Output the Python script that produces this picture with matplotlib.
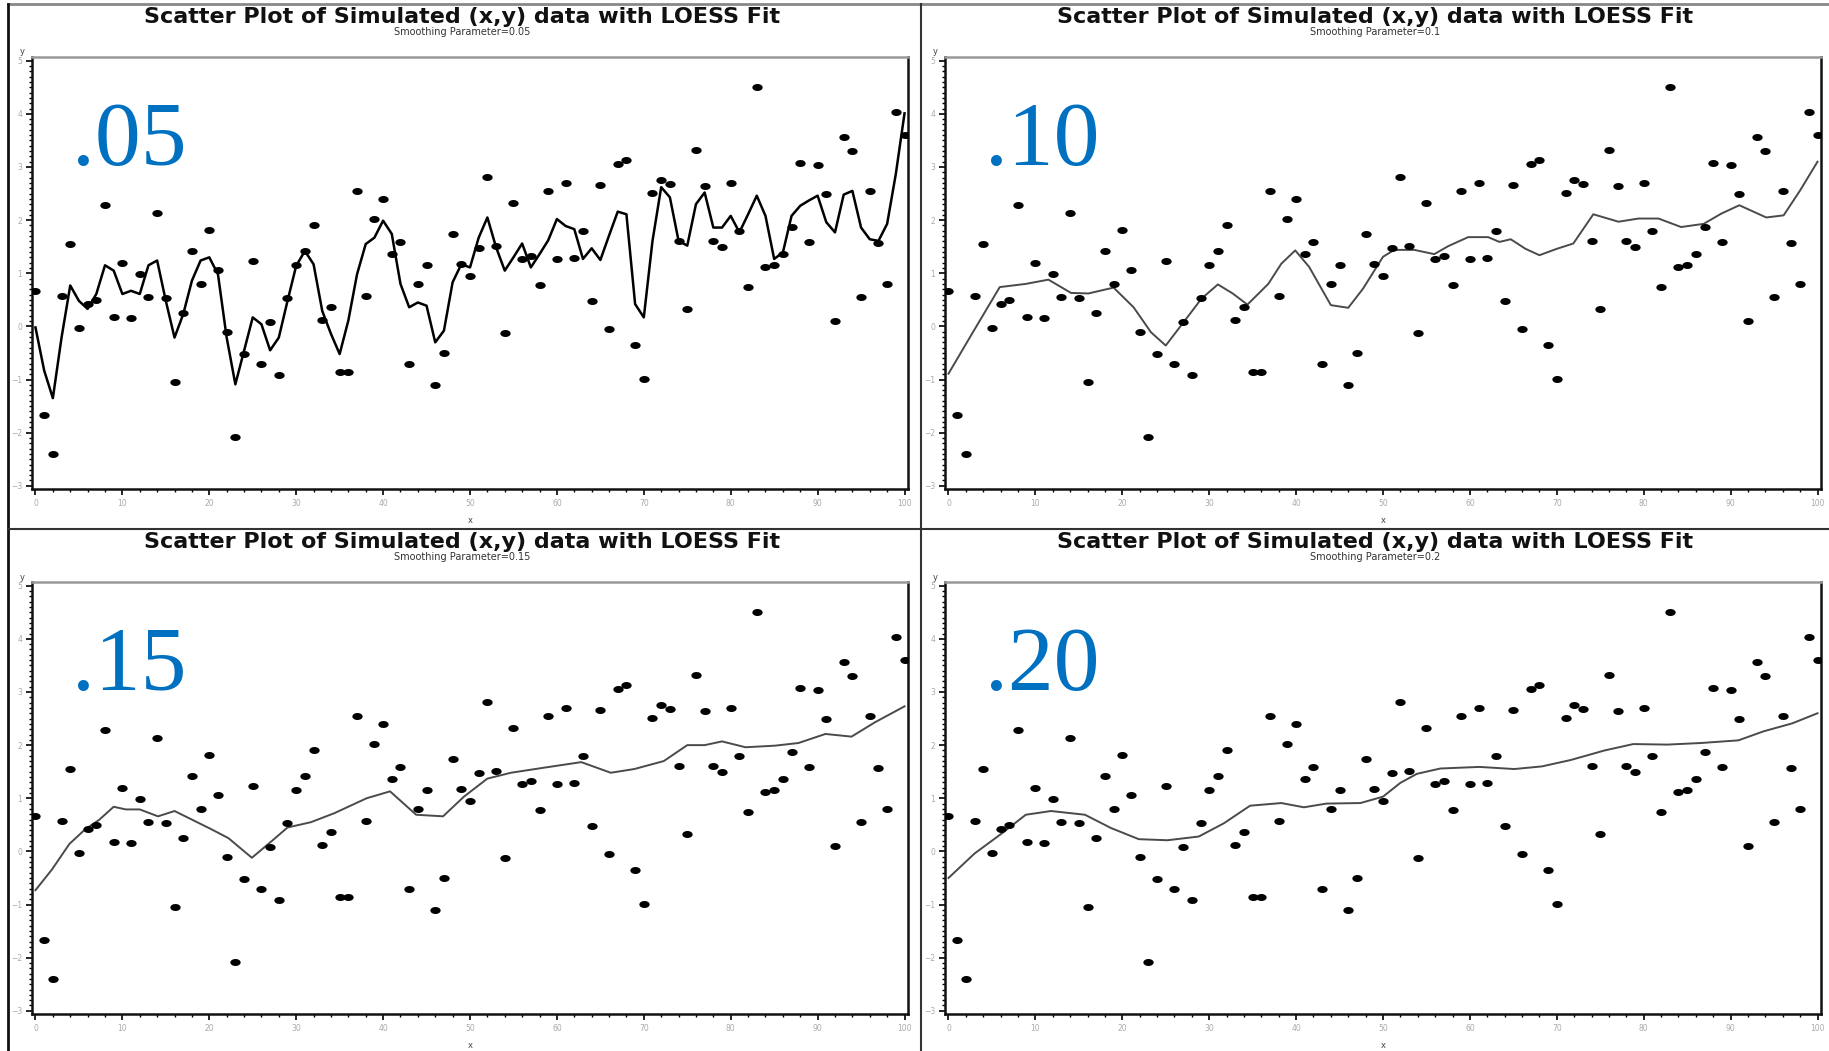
import numpy as np
import matplotlib
matplotlib.use("Agg")
from matplotlib import pyplot as plt
from matplotlib.lines import Line2D
from matplotlib.ticker import MultipleLocator

# simulated (x,y) points, same in all four panels
x_pts = list(range(101))
y_pts = [0.66, -1.67, -2.40, 0.57, 1.56, -0.03, 0.42, 0.50, 2.29, 0.18,
         1.20, 0.16, 0.99, 0.55, 2.14, 0.54, -1.04, 0.26, 1.41, 0.80,
         1.82, 1.06, -0.10, -2.09, -0.51, 1.24, -0.70, 0.09, -0.92, 0.53,
         1.16, 1.42, 1.91, 0.12, 0.37, -0.85, -0.85, 2.54, 0.57, 2.02,
         2.40, 1.37, 1.59, -0.70, 0.80, 1.16, -1.11, -0.50, 1.74, 1.17,
         0.95, 1.48, 2.81, 1.52, -0.12, 2.33, 1.27, 1.32, 0.77, 2.54,
         1.27, 2.69, 1.29, 1.80, 0.48, 2.67, -0.04, 3.06, 3.13, -0.35,
         -0.99, 2.51, 2.76, 2.68, 1.61, 0.33, 3.32, 2.65, 1.61, 1.50,
         2.69, 1.80, 0.74, 4.51, 1.12, 1.16, 1.37, 1.88, 3.08, 1.59,
         3.04, 2.50, 0.10, 3.57, 3.31, 0.55, 2.54, 1.57, 0.80, 4.04,
         3.61]

# loess fits
x_fit05 = list(range(101))
y_fit05 = [-0.02, -0.83, -1.35, -0.21, 0.77, 0.48, 0.33, 0.61, 1.15, 1.05,
           0.61, 0.67, 0.61, 1.15, 1.24, 0.48, -0.21, 0.23, 0.86, 1.24,
           1.30, 0.98, -0.21, -1.09, -0.46, 0.17, 0.04, -0.45, -0.21, 0.48,
           1.14, 1.42, 1.17, 0.29, -0.14, -0.52, 0.11, 0.98, 1.55, 1.67,
           1.99, 1.74, 0.80, 0.36, 0.45, 0.39, -0.30, -0.08, 0.83, 1.17,
           1.11, 1.67, 2.05, 1.49, 1.05, 1.30, 1.56, 1.11, 1.36, 1.62,
           2.02, 1.89, 1.83, 1.27, 1.47, 1.25, 1.71, 2.16, 2.11, 0.42,
           0.17, 1.61, 2.62, 2.43, 1.61, 1.52, 2.30, 2.52, 1.86, 1.86,
           2.08, 1.77, 2.11, 2.46, 2.08, 1.27, 1.39, 2.08, 2.27, 2.37,
           2.46, 1.96, 1.77, 2.48, 2.55, 1.86, 1.64, 1.61, 1.93, 2.87,
           4.01]

x_fit10 = [0, 2.7, 5.9, 8.9, 11.5, 14.1, 16.1, 19, 21.3, 23.3, 25, 27.2, 29.1,
           31, 32.7, 34.4, 36.8, 38.3, 39.9, 41.5, 44, 46, 47.7, 50, 51.3, 53.6,
           55.9, 57.5, 59.8, 62.1, 63.4, 64.7, 66.4, 68, 70, 71.9, 74.2, 77.1,
           79.4, 81.7, 84.3, 86.9, 88.9, 91, 94.1, 96.1, 98, 100]
y_fit10 = [-0.89, -0.14, 0.74, 0.80, 0.88, 0.63, 0.62, 0.73, 0.36, -0.11, -0.36,
           0.11, 0.52, 0.79, 0.62, 0.41, 0.80, 1.18, 1.43, 1.12, 0.40, 0.35, 0.71,
           1.31, 1.44, 1.44, 1.36, 1.51, 1.68, 1.68, 1.59, 1.64, 1.46, 1.34, 1.46,
           1.56, 2.11, 1.97, 2.03, 2.03, 1.87, 1.93, 2.12, 2.28, 2.05, 2.09, 2.56,
           3.10]

x_fit15 = [0, 1.9, 3.9, 5.75, 7.3, 9, 10.4, 12, 14.1, 16, 18.1, 20.2, 22.2, 24.9,
           27.3, 29, 31.7, 34.4, 38.1, 40.8, 43.8, 46.9, 49.3, 52, 54.7, 58.7,
           62.8, 66.2, 68.9, 72.3, 75, 77, 79, 81.7, 85.1, 87.8, 90.9, 93.9,
           96.6, 100]
y_fit15 = [-0.73, -0.34, 0.14, 0.42, 0.59, 0.84, 0.79, 0.79, 0.66, 0.76, 0.59,
           0.42, 0.25, -0.12, 0.21, 0.45, 0.55, 0.72, 1.00, 1.13, 0.69, 0.66,
           1.03, 1.37, 1.48, 1.58, 1.68, 1.48, 1.55, 1.70, 2.00, 2.00, 2.07,
           1.96, 1.99, 2.04, 2.21, 2.16, 2.43, 2.73]

x_fit20 = [0, 3, 5.9, 8.9, 11.8, 15.7, 18.7, 21.9, 25.2, 28.8, 31.7, 34.7, 38.3,
           40.9, 43.5, 47.4, 50, 52, 53.9, 56.6, 61.1, 65.1, 68.3, 71.6, 75.5,
           78.8, 82.7, 86.6, 90.9, 93.8, 97.1, 100]
y_fit20 = [-0.50, -0.04, 0.31, 0.69, 0.76, 0.69, 0.44, 0.23, 0.21, 0.28, 0.53,
           0.86, 0.91, 0.83, 0.90, 0.91, 1.03, 1.29, 1.46, 1.56, 1.59, 1.55,
           1.60, 1.72, 1.90, 2.02, 2.01, 2.04, 2.09, 2.26, 2.41, 2.60]

smooth_vals = ["0.05", "0.1", "0.15", "0.2"]
big_labels = [".05", ".10", ".15", ".20"]
fits = [(x_fit05, y_fit05), (x_fit10, y_fit10), (x_fit15, y_fit15), (x_fit20, y_fit20)]
x_ticks = list(range(0, 101, 10))
y_ticks = list(range(-3, 6))

W, H = 1829, 1051
fig = plt.figure(figsize=(W / 100, H / 100), dpi=100)

def fx(px):
    return px / W

def fy(py):
    return 1 - py / H

# panel frames (left px of axes, top px of axes, centre of panel)
frames = [(32, 57, 462), (945, 57, 1375), (32, 582, 462), (945, 582, 1375)]
ax_w, ax_h = 876, 432

t = np.linspace(0, 2 * np.pi, 40)
dot = list(zip(np.cos(t), 0.68 * np.sin(t)))

for i, (left, top, cx) in enumerate(frames):
    ax = fig.add_axes([fx(left), fy(top + ax_h), fx(ax_w), ax_h / H])
    ax.scatter(x_pts, y_pts, marker=dot, s=55, c="black", linewidths=0, zorder=3)
    fx_, fy_ = fits[i]
    if i == 0:
        ax.plot(fx_, fy_, color="black", lw=1.8, zorder=2)
    else:
        ax.plot(fx_, fy_, color="#4a4a4a", lw=1.4, zorder=2)
    ax.set_xlim(-0.4, 100.4)
    ax.set_ylim(-3.06, 5.07)
    ax.set_xticks(x_ticks)
    ax.set_yticks(y_ticks)
    ax.xaxis.set_minor_locator(MultipleLocator(2))
    ax.yaxis.set_minor_locator(MultipleLocator(0.1))
    ax.tick_params(axis="both", which="major", direction="out", length=4, width=1.2,
                   labelsize=5.5, labelcolor="#aaaaaa", color="black", pad=3)
    ax.tick_params(axis="both", which="minor", direction="out", length=2.5, width=1,
                   color="black")
    for s in ["left", "bottom", "right"]:
        ax.spines[s].set_linewidth(1.8)
        ax.spines[s].set_color("#111111")
    ax.spines["top"].set_linewidth(1.8)
    ax.spines["top"].set_color("#999999")

    fig.text(fx(cx), fy(top - 40), "Scatter Plot of Simulated (x,y) data with LOESS Fit",
             ha="center", va="center", fontsize=16, fontweight="bold",
             family="DejaVu Sans", color="#111111")
    fig.text(fx(cx), fy(top - 25), "Smoothing Parameter=" + smooth_vals[i],
             ha="center", va="center", fontsize=7, family="DejaVu Sans", color="#333333")
    fig.text(fx(left - 10), fy(top - 5), "y", ha="center", va="center",
             fontsize=6, color="#444444")
    fig.text(fx(left + ax_w / 2), fy(top + ax_h + 31), "x", ha="center", va="center",
             fontsize=6, color="#444444")
    fig.text(fx(left + 40), fy(top + 108), big_labels[i], ha="left", va="baseline",
             fontsize=66, color="#0070c0", family=["Liberation Serif", "DejaVu Serif"])

# outer frame lines of the four graph panels
fig.add_artist(Line2D([fx(8), 1], [fy(4), fy(4)], color="#888888", lw=2))
fig.add_artist(Line2D([fx(8), fx(8)], [fy(4), 0], color="#111111", lw=2))
fig.add_artist(Line2D([fx(921), fx(921)], [fy(4), 0], color="#333333", lw=1.5))
fig.add_artist(Line2D([fx(8), 1], [fy(529), fy(529)], color="#333333", lw=1.5))

fig.savefig("out.png", dpi=100)
